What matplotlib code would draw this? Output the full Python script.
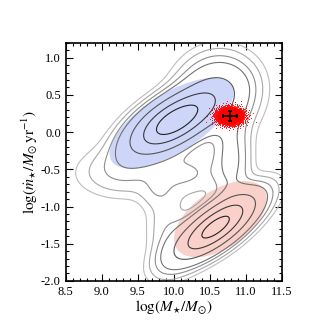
import numpy as np
import matplotlib
matplotlib.use('Agg')
import matplotlib.pyplot as plt
from matplotlib.patches import Ellipse
from matplotlib.ticker import MultipleLocator, FormatStrFormatter

plt.rcParams['font.family'] = ['Liberation Serif', 'DejaVu Serif']
plt.rcParams['mathtext.fontset'] = 'stix'

# density components (x, y, major sigma, minor sigma, angle [deg], weight)
comp_x = [10.02, 10.60, 10.58, 10.80, 9.92, 9.30, 9.75, 10.20]
comp_y = [0.15, 0.52, -1.28, -0.35, -1.30, -0.55, -0.80, -0.55]
comp_major = [0.39, 0.30, 0.38, 0.40, 0.35, 0.38, 0.15, 0.30]
comp_minor = [0.17, 0.28, 0.14, 0.16, 0.18, 0.20, 0.15, 0.20]
comp_angle = [30, 30, 35, 90, 90, 0, 0, 0]
comp_weight = [1.0, 0.19, 0.9, 0.085, 0.035, 0.04, 0.02, 0.042]

# contour levels as fraction of the peak
levels = [0.009, 0.02, 0.04, 0.07, 0.2, 0.45, 0.75]
level_colors = ['#bdbdbd', '#a8a8a8', '#8e8e8e', '#737373', '#565656', '#3b3b3b', '#222222']

# shaded ellipses: star forming (blue) and quiescent (red)
sf_ellipse = dict(xy=(9.97, 0.12), width=1.95, height=0.80, angle=31)
q_ellipse = dict(xy=(10.65, -1.17), width=1.45, height=0.78, angle=33)

# red cloud and the black error cross
cloud_x, cloud_y = 10.78, 0.22
cloud_sx, cloud_sy = 0.095, 0.06
cloud_n = 2200
err_x, err_y = 0.095, 0.068

# grid density
gx = np.linspace(8.5, 11.5, 400)
gy = np.linspace(-2.0, 1.2, 420)
X, Y = np.meshgrid(gx, gy)
Z = np.zeros_like(X)
for x0, y0, a, b, ang, w in zip(comp_x, comp_y, comp_major, comp_minor, comp_angle, comp_weight):
    t = np.radians(ang)
    u = (X - x0) * np.cos(t) + (Y - y0) * np.sin(t)
    v = -(X - x0) * np.sin(t) + (Y - y0) * np.cos(t)
    Z += w * np.exp(-0.5 * ((u / a) ** 2 + (v / b) ** 2))
Z /= Z.max()

fig = plt.figure(figsize=(3.27, 3.27), dpi=100)
ax = fig.add_axes([0.201, 0.141, 0.66, 0.728])

ax.add_patch(Ellipse(facecolor='#cdd5f8', edgecolor='none', zorder=1, **sf_ellipse))
ax.add_patch(Ellipse(facecolor='#f9d0ca', edgecolor='none', zorder=1, **q_ellipse))

ax.contour(X, Y, Z, levels=levels, colors=level_colors, linewidths=0.8, zorder=2)

# deterministic gaussian-like cloud (sunflower pattern)
i = np.arange(cloud_n)
r = np.sqrt(-2 * np.log(1 - (i + 0.5) / cloud_n))
th = i * np.pi * (3 - np.sqrt(5))
ax.plot(cloud_x + cloud_sx * r * np.cos(th), cloud_y + cloud_sy * r * np.sin(th),
        ls='none', marker='s', ms=0.6, mew=0, color='red', zorder=3)
ax.errorbar([cloud_x], [cloud_y], xerr=[err_x], yerr=[err_y], fmt='none',
            ecolor='black', elinewidth=1.2, capsize=1.5, capthick=1.2, zorder=4)

ax.set_xlim(8.5, 11.5)
ax.set_ylim(-2.0, 1.2)
ax.xaxis.set_major_locator(MultipleLocator(0.5))
ax.xaxis.set_minor_locator(MultipleLocator(0.1))
ax.yaxis.set_major_locator(MultipleLocator(0.5))
ax.yaxis.set_minor_locator(MultipleLocator(0.1))
ax.xaxis.set_major_formatter(FormatStrFormatter('%.1f'))
ax.yaxis.set_major_formatter(FormatStrFormatter('%.1f'))
ax.tick_params(which='both', direction='in', top=True, right=True, labelsize=9, width=0.8)
ax.tick_params(which='major', length=5)
ax.tick_params(which='minor', length=2.5)
for s in ax.spines.values():
    s.set_linewidth(1.2)

ax.set_xlabel(r'$\log(M_{\star}/M_{\odot})$', fontsize=11, labelpad=0)
ax.set_ylabel(r'$\log(\dot{m}_{\star}/M_{\odot}\,\mathrm{yr}^{-1})$', fontsize=11, labelpad=1)

fig.savefig('out.png', dpi=100)
